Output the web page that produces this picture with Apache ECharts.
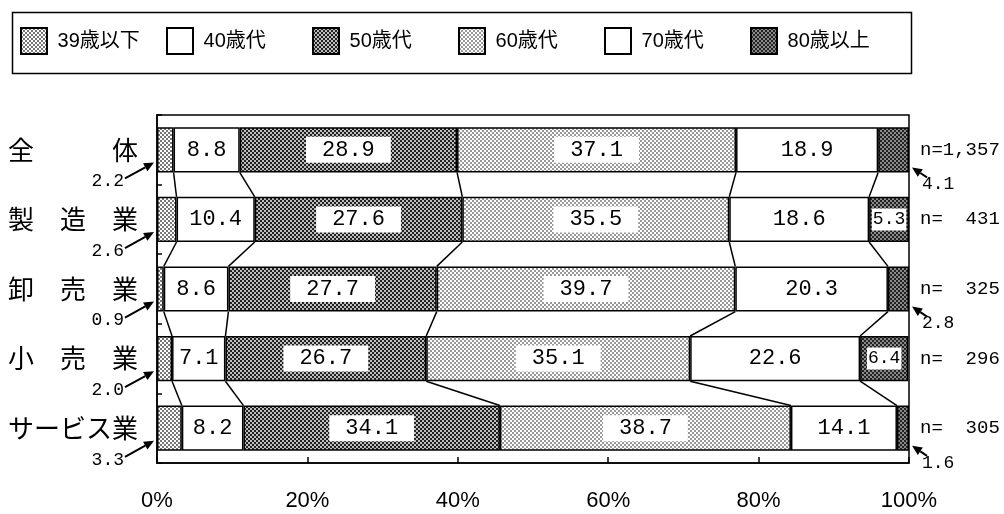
<!DOCTYPE html>
<html>
<head>
<meta charset="utf-8">
<script src="https://cdn.jsdelivr.net/npm/echarts@6/dist/echarts.min.js"></script>
<style>
  html, body { margin: 0; padding: 0; background: #fff; }
  #main { width: 1004px; height: 514px; }
</style>
</head>
<body>
<div id="main"></div>
<script>
// 業種
const categories = ['全　　　体', '製　造　業', '卸　売　業', '小　売　業', 'サービス業']
const nLabels = ['n=1,357', 'n=  431', 'n=  325', 'n=  296', 'n=  305']
const ageNames = ['39歳以下', '40歳代', '50歳代', '60歳代', '70歳代', '80歳以上']
// 年代別構成比(%)、業種順
const age39 = [2.2, 2.6, 0.9, 2.0, 3.3]
const age40 = [8.8, 10.4, 8.6, 7.1, 8.2]
const age50 = [28.9, 27.6, 27.7, 26.7, 34.1]
const age60 = [37.1, 35.5, 39.7, 35.1, 38.7]
const age70 = [18.9, 18.6, 20.3, 22.6, 14.1]
const age80 = [4.1, 5.3, 2.8, 6.4, 1.6]
const xTicks = [0, 20, 40, 60, 80, 100]

const ageValues = [age39, age40, age50, age60, age70, age80]

// 網掛けパターン
function pattern(bg, fg) {
  const c = document.createElement('canvas')
  c.width = 4; c.height = 4
  const g = c.getContext('2d')
  g.fillStyle = bg
  g.fillRect(0, 0, 4, 4)
  g.fillStyle = fg
  g.fillRect(0, 0, 2, 2)
  g.fillRect(2, 2, 2, 2)
  return { image: c, repeat: 'repeat' }
}
const fills = [
  pattern('#ffffff', '#777777'),
  '#ffffff',
  pattern('#bdbdbd', '#222222'),
  pattern('#ffffff', '#999999'),
  '#ffffff',
  pattern('#8a8a8a', '#222222')
]
const boxed = [false, false, true, true, false, true]
const barRatio = 0.65
const numFont = '"Liberation Mono", monospace'
const textFont = '"Liberation Sans", "Noto Sans CJK JP", sans-serif'

const chart = echarts.init(document.getElementById('main'))

const barSeries = ageNames.map(function (name, k) {
  return {
    name: name,
    type: 'bar',
    stack: 'total',
    barWidth: '65%',
    itemStyle: { color: fills[k], borderColor: '#000', borderWidth: 1.5 },
    label: {
      show: k > 0,
      position: 'inside',
      color: '#000',
      fontFamily: numFont,
      fontSize: k === 5 ? 18 : 22,
      backgroundColor: boxed[k] ? '#fff' : 'transparent',
      padding: k === 5 ? [2, 1] : [2, 16],
      formatter: function (p) { return p.value.toFixed(1) }
    },
    emphasis: { disabled: true },
    data: ageValues[k].map(function (v) {
      // 80歳以上で小さい値は矢印注記にする
      if (k === 5 && v < 5) return { value: v, label: { show: false } }
      return v
    })
  }
})

// 区切り線（上の棒の下端→下の棒の上端）
const linkData = []
for (let i = 0; i < categories.length - 1; i++) {
  let a = 0, b = 0
  for (let k = 0; k < 5; k++) {
    a += ageValues[k][i]
    b += ageValues[k][i + 1]
    linkData.push([a, i, b, i + 1])
  }
}

// 矢印注記 [x, 業種, 値, 0=左 1=右]
const noteData = []
age39.forEach(function (v, i) { noteData.push([0, i, v, 0]) })
age80.forEach(function (v, i) { if (v < 5) noteData.push([100, i, v, 1]) })

// 凡例は等間隔に並べる
const legends = ageNames.map(function (name, k) {
  return {
    data: [name],
    left: 20 + k * 146,
    top: 27,
    padding: 0,
    itemWidth: 26,
    itemHeight: 26,
    icon: 'rect',
    selectedMode: false,
    formatter: ' {name}',
    textStyle: { color: '#000', fontSize: 20, fontFamily: textFont }
  }
})

chart.setOption({
  animation: false,
  legend: legends,
  graphic: [{
    type: 'rect',
    left: 10,
    top: 10,
    shape: { width: 899, height: 61 },
    style: { fill: 'none', stroke: '#000', lineWidth: 1.5 }
  }],
  grid: {
    left: 157,
    right: 95,
    top: 115,
    bottom: 51,
    show: true,
    borderColor: '#000',
    borderWidth: 1.5
  },
  xAxis: {
    type: 'value',
    min: xTicks[0],
    max: xTicks[xTicks.length - 1],
    interval: xTicks[1] - xTicks[0],
    splitLine: { show: false },
    axisLine: { show: true, lineStyle: { color: '#000', width: 1.5 } },
    axisTick: { show: true, inside: true, length: 6, lineStyle: { color: '#000', width: 1.5 } },
    axisLabel: {
      color: '#000',
      fontSize: 22,
      margin: 27,
      fontFamily: '"Liberation Sans", sans-serif',
      formatter: '{value}%'
    }
  },
  yAxis: [{
    type: 'category',
    data: categories,
    inverse: true,
    axisLine: { show: true, lineStyle: { color: '#000', width: 1.5 } },
    axisTick: { show: true, inside: true, length: 5, lineStyle: { color: '#000', width: 1.5 } },
    axisLabel: {
      color: '#000',
      fontSize: 26,
      margin: 19,
      fontFamily: '"Noto Sans CJK JP", sans-serif'
    }
  }, {
    type: 'category',
    data: nLabels,
    inverse: true,
    position: 'right',
    axisLine: { show: false },
    axisTick: { show: false },
    axisLabel: {
      color: '#000',
      fontSize: 19,
      margin: 11,
      fontFamily: numFont
    }
  }],
  series: barSeries.concat([{
    type: 'custom',
    silent: true,
    z: 5,
    encode: { x: [0, 2], y: [1, 3] },
    data: linkData,
    renderItem: function (params, api) {
      const half = api.size([0, 1])[1] * barRatio / 2
      const p1 = api.coord([api.value(0), api.value(1)])
      const p2 = api.coord([api.value(2), api.value(3)])
      return {
        type: 'line',
        shape: { x1: p1[0], y1: p1[1] + half, x2: p2[0], y2: p2[1] - half },
        style: { stroke: '#000', lineWidth: 1.5 }
      }
    }
  }, {
    type: 'custom',
    silent: true,
    z: 6,
    encode: { x: 0, y: 1 },
    data: noteData,
    renderItem: function (params, api) {
      const half = api.size([0, 1])[1] * barRatio / 2
      const p = api.coord([api.value(0), api.value(1)])
      const bottom = p[1] + half
      const right = api.value(3) === 1
      let tip, tail, tx, ty, align
      if (!right) {
        tip = [p[0] - 3, bottom - 10]
        tail = [p[0] - 32, bottom + 6]
        tx = p[0] - 33; ty = bottom + 9; align = 'right'
      } else {
        tip = [p[0] + 3, bottom - 5]
        tail = [p[0] + 18, bottom + 5]
        tx = p[0] + 13; ty = bottom + 12; align = 'left'
      }
      const dx = tip[0] - tail[0], dy = tip[1] - tail[1]
      const len = Math.sqrt(dx * dx + dy * dy)
      const ux = dx / len, uy = dy / len
      const bx = tip[0] - ux * 10, by = tip[1] - uy * 10
      return {
        type: 'group',
        children: [{
          type: 'line',
          shape: { x1: tail[0], y1: tail[1], x2: bx, y2: by },
          style: { stroke: '#000', lineWidth: 2 }
        }, {
          type: 'polygon',
          shape: { points: [tip, [bx - uy * 4.5, by + ux * 4.5], [bx + uy * 4.5, by - ux * 4.5]] },
          style: { fill: '#000' }
        }, {
          type: 'text',
          style: {
            x: tx, y: ty,
            text: api.value(2).toFixed(1),
            fill: '#000',
            fontSize: 18,
            fontFamily: numFont,
            align: align,
            verticalAlign: 'middle'
          }
        }]
      }
    }
  }])
})
</script>
</body>
</html>
